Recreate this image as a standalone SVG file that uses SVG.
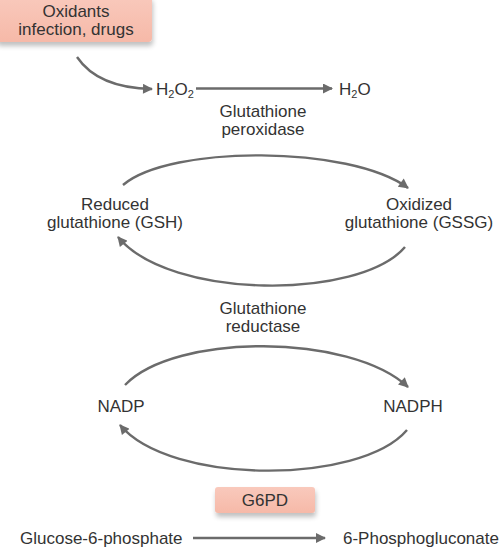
<svg xmlns="http://www.w3.org/2000/svg" width="500" height="548" viewBox="0 0 500 548">
<style>
text{font-family:"Liberation Sans",Arial,sans-serif;font-size:17px;fill:#333;}
.c{text-anchor:middle;}
.sub{font-size:11px;}
.arr{fill:none;stroke:#6b6b6b;stroke-width:2.4;marker-end:url(#ah);}
.box{fill:url(#bg);}
</style>
<defs>
<marker id="ah" viewBox="0 0 10 10" refX="9" refY="5" markerWidth="12" markerHeight="10" markerUnits="userSpaceOnUse" orient="auto">
<path d="M0,0 L10,5 L0,10 z" fill="#6b6b6b"/>
</marker>
<linearGradient id="bg" x1="0" y1="0" x2="0" y2="1">
<stop offset="0" stop-color="#f9c9bc"/>
<stop offset="1" stop-color="#f6b9a8"/>
</linearGradient>
<filter id="sh" x="-10%" y="-20%" width="120%" height="160%">
<feGaussianBlur in="SourceAlpha" stdDeviation="2.5"/>
<feOffset dx="1" dy="4" result="b"/>
<feComponentTransfer><feFuncA type="linear" slope="0.25"/></feComponentTransfer>
<feMerge><feMergeNode/><feMergeNode in="SourceGraphic"/></feMerge>
</filter>
</defs>

<g id="connectors">
<path class="arr" d="M77,57 Q98,88 152,89"/>
<path class="arr" d="M196,88.5 H332"/>
<path class="arr" d="M123,185 C170,145 350,145 408,188"/>
<path class="arr" d="M405,247 C360,300 170,300 118,237"/>
<path class="arr" d="M125,385 C175,333 350,333 408,387"/>
<path class="arr" d="M407,430 C360,485 170,485 120,425"/>
<path class="arr" d="M193,538 H325"/>
</g>

<g id="oxidants">
<rect class="box" x="-4" y="-4" width="156" height="46" rx="4" filter="url(#sh)"/>
<text class="c" x="76" y="17">Oxidants</text>
<text class="c" x="76" y="35">infection, drugs</text>
</g>

<g id="h2o2">
<text x="156" y="95">H<tspan class="sub" dy="3">2</tspan><tspan dy="-3">O</tspan><tspan class="sub" dy="3">2</tspan></text>
</g>

<g id="h2o">
<text x="339" y="95">H<tspan class="sub" dy="3">2</tspan><tspan dy="-3">O</tspan></text>
</g>

<g id="gpx">
<text class="c" x="263" y="117">Glutathione</text>
<text class="c" x="263" y="135">peroxidase</text>
</g>

<g id="gsh">
<text class="c" x="115" y="210">Reduced</text>
<text class="c" x="115" y="228">glutathione (GSH)</text>
</g>

<g id="gssg">
<text class="c" x="419" y="210">Oxidized</text>
<text class="c" x="419" y="228">glutathione (GSSG)</text>
</g>

<g id="gr">
<text class="c" x="263" y="314">Glutathione</text>
<text class="c" x="263" y="332">reductase</text>
</g>

<g id="nadp">
<text class="c" x="121" y="412">NADP</text>
</g>

<g id="nadph">
<text class="c" x="413" y="412">NADPH</text>
</g>

<g id="g6pd">
<rect class="box" x="215" y="487" width="100" height="26" rx="3" filter="url(#sh)"/>
<text class="c" x="265" y="506">G6PD</text>
</g>

<g id="g6p">
<text x="20" y="544">Glucose-6-phosphate</text>
</g>

<g id="pg">
<text x="343" y="544">6-Phosphogluconate</text>
</g>
</svg>
